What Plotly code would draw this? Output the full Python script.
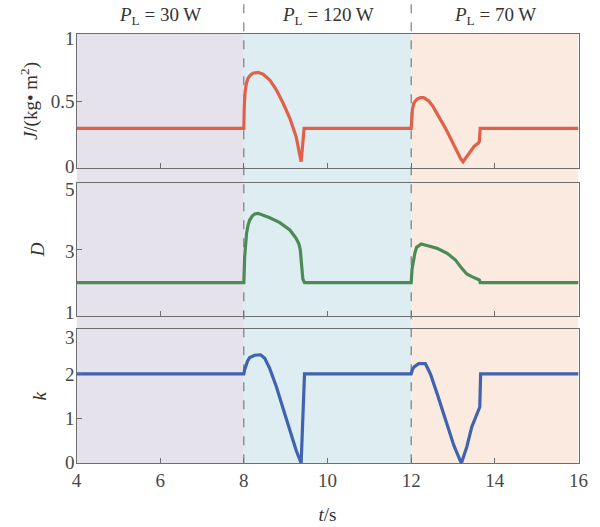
import plotly.graph_objects as go
from plotly.subplots import make_subplots

# ---------------- data ----------------
J_t = [4.0, 8.0, 8.01, 8.03, 8.06, 8.10, 8.16, 8.22, 8.34, 8.46, 8.62, 8.78, 8.94, 9.10, 9.25, 9.32,
       9.37, 9.40, 9.44, 12.0, 12.01, 12.03, 12.06, 12.10, 12.16, 12.22, 12.30, 12.36, 12.42, 12.52,
       12.62, 12.72, 12.82, 12.92, 13.02, 13.10, 13.18, 13.24, 13.30, 13.38, 13.44, 13.50, 13.56,
       13.60, 13.63, 13.65, 16.0]
J_v = [0.296, 0.296, 0.45, 0.57, 0.63, 0.67, 0.695, 0.707, 0.714, 0.70, 0.657, 0.582, 0.483, 0.371,
       0.234, 0.14, 0.047, 0.15, 0.296, 0.296, 0.38, 0.44, 0.48, 0.50, 0.518, 0.525, 0.525, 0.515,
       0.50, 0.46, 0.408, 0.35, 0.296, 0.235, 0.172, 0.12, 0.072, 0.047, 0.075, 0.11, 0.135, 0.16,
       0.175, 0.184, 0.20, 0.296, 0.296]

D_t = [4.0, 8.0, 8.02, 8.065, 8.10, 8.14, 8.20, 8.26, 8.34, 8.46, 8.62, 8.86, 9.10, 9.25, 9.32,
       9.35, 9.39, 9.41, 9.45, 12.0, 12.02, 12.05, 12.09, 12.13, 12.18, 12.24, 12.42, 12.62, 12.86,
       13.06, 13.21, 13.33, 13.45, 13.57, 13.63, 13.65, 16.0]
D_v = [2.0, 2.0, 2.78, 3.48, 3.72, 3.88, 4.0, 4.06, 4.08, 4.02, 3.95, 3.80, 3.58, 3.33, 3.15,
       2.98, 2.48, 2.11, 2.0, 2.0, 2.4, 2.68, 2.9, 3.06, 3.12, 3.16, 3.10, 3.03, 2.88,
       2.68, 2.43, 2.26, 2.18, 2.13, 2.08, 2.0, 2.0]

k_t = [4.0, 8.0, 8.02, 8.05, 8.09, 8.14, 8.26, 8.40, 8.50, 8.62, 8.78, 8.94, 9.10, 9.25, 9.37,
       9.41, 9.45, 12.0, 12.03, 12.07, 12.18, 12.34, 12.40, 12.46, 12.62, 12.82, 13.02, 13.20,
       13.33, 13.45, 13.57, 13.64, 13.66, 16.0]
k_v = [2.0, 2.0, 2.1, 2.19, 2.29, 2.37, 2.42, 2.43, 2.35, 2.12, 1.71, 1.22, 0.74, 0.29, 0.0,
       0.89, 2.0, 2.0, 2.1, 2.16, 2.23, 2.23, 2.12, 2.0, 1.56, 0.96, 0.40, 0.0,
       0.37, 0.82, 1.11, 1.26, 2.0, 2.0]

region_edges = [4, 8, 12, 16]
region_colors = ["#E6E2EC", "#DDEDF2", "#FBEADF"]
region_labels = ["<i>P</i><sub>L</sub> = 30 W", "<i>P</i><sub>L</sub> = 120 W", "<i>P</i><sub>L</sub> = 70 W"]

x_ticks = [4, 6, 8, 10, 12, 14, 16]
J_ticks = [0, 0.5, 1]
J_labels = ["0", "0.5", "1"]
J_label_pos = [0.015, 0.5, 0.97]
D_ticks = [1, 3, 5]
D_labels = ["1", "3", "5"]
D_label_pos = [1.12, 2.95, 4.79]
k_ticks = [0, 1, 2, 3]
k_labels = ["0", "1", "2", "3"]
k_label_pos = [0.02, 1.0, 2.0, 2.82]

# ---------------- figure ----------------
FONT = "Liberation Serif"
TXT = "#333333"
fig = make_subplots(rows=3, cols=1, shared_xaxes=True)

fig.add_trace(go.Scatter(x=J_t, y=J_v, mode="lines", line=dict(color="#E2604A", width=3.2),
                         showlegend=False), row=1, col=1)
fig.add_trace(go.Scatter(x=D_t, y=D_v, mode="lines", line=dict(color="#4C8B55", width=3.2),
                         showlegend=False), row=2, col=1)
fig.add_trace(go.Scatter(x=k_t, y=k_v, mode="lines", line=dict(color="#3F63AE", width=3.2),
                         showlegend=False), row=3, col=1)

xdom = [0.1275, 0.9642]
ydoms = [[0.6812, 0.9355], [0.4004, 0.6533], [0.1209, 0.3751]]
y_bottom = ydoms[2][0]
y_top = ydoms[0][1]

axis_common = dict(showline=True, linecolor="#6E6E6E", linewidth=1, mirror=True,
                   ticks="inside", ticklen=5, tickcolor="#6E6E6E", showgrid=False,
                   zeroline=False, automargin=False,
                   tickfont=dict(family=FONT, size=19, color="#484848"))

ranges = [[0, 1], [1, 5], [0, 3]]
tick_sets = [J_ticks, D_ticks, k_ticks]
label_sets = [J_labels, D_labels, k_labels]
label_pos = [J_label_pos, D_label_pos, k_label_pos]
titles = ["<i>J</i>/(kg• m<sup>2</sup>)", "<i>D</i>", "<i>k</i>"]
standoffs = [8, 15, 13]

for i in range(3):
    xa = "xaxis" if i == 0 else f"xaxis{i+1}"
    ya = "yaxis" if i == 0 else f"yaxis{i+1}"
    fig.layout[xa].update(domain=xdom, range=[4, 16], tickvals=x_ticks,
                          showticklabels=(i == 2), **axis_common)
    fig.layout[ya].update(domain=ydoms[i], range=ranges[i], tickvals=tick_sets[i],
                          showticklabels=False, **axis_common)
    # overlay axis carrying the tick labels (nudged inward at the frame edges) and title
    la = f"yaxis{i+4}"
    main_y = "y" if i == 0 else f"y{i+1}"
    main_x = "x" if i == 0 else f"x{i+1}"
    fig.layout[la] = dict(overlaying=main_y, anchor=main_x, side="left", range=ranges[i],
                          tickvals=label_pos[i], ticktext=label_sets[i], ticks="",
                          showline=False, showgrid=False, zeroline=False, automargin=False,
                          ticklabelstandoff=1,
                          tickfont=dict(family=FONT, size=19, color="#484848"),
                          title=dict(text=titles[i], font=dict(family=FONT, size=19, color=TXT),
                                     standoff=standoffs[i]))
    fig.add_trace(go.Scatter(x=[None], y=[None], xaxis=main_x, yaxis=f"y{i+4}",
                             showlegend=False, hoverinfo="skip"))

fig.layout.xaxis3.update(title=dict(text="<i>t</i>/s", font=dict(family=FONT, size=19, color=TXT),
                                    standoff=17))

shapes = []
for i in range(3):
    shapes.append(dict(type="rect", xref="x3", yref="paper",
                       x0=region_edges[i], x1=region_edges[i + 1], y0=y_bottom, y1=y_top,
                       fillcolor=region_colors[i], line=dict(width=0), layer="below"))
for xv in region_edges[1:3]:
    shapes.append(dict(type="line", xref="x3", yref="paper", x0=xv, x1=xv, y0=y_bottom, y1=1.0,
                       line=dict(color="#666666", width=1, dash="dash"), layer="below"))

annotations = []
for i in range(3):
    annotations.append(dict(x=(region_edges[i] + region_edges[i + 1]) / 2, y=1 - 16 / 527,
                            xref="x3", yref="paper", text=region_labels[i], showarrow=False,
                            font=dict(family=FONT, size=19, color=TXT),
                            xanchor="center", yanchor="middle"))

fig.update_layout(width=600, height=527, margin=dict(l=0, r=0, t=0, b=0),
                  paper_bgcolor="white", plot_bgcolor="rgba(0,0,0,0)",
                  shapes=shapes, annotations=annotations, showlegend=False)

fig.write_html("out.html")
